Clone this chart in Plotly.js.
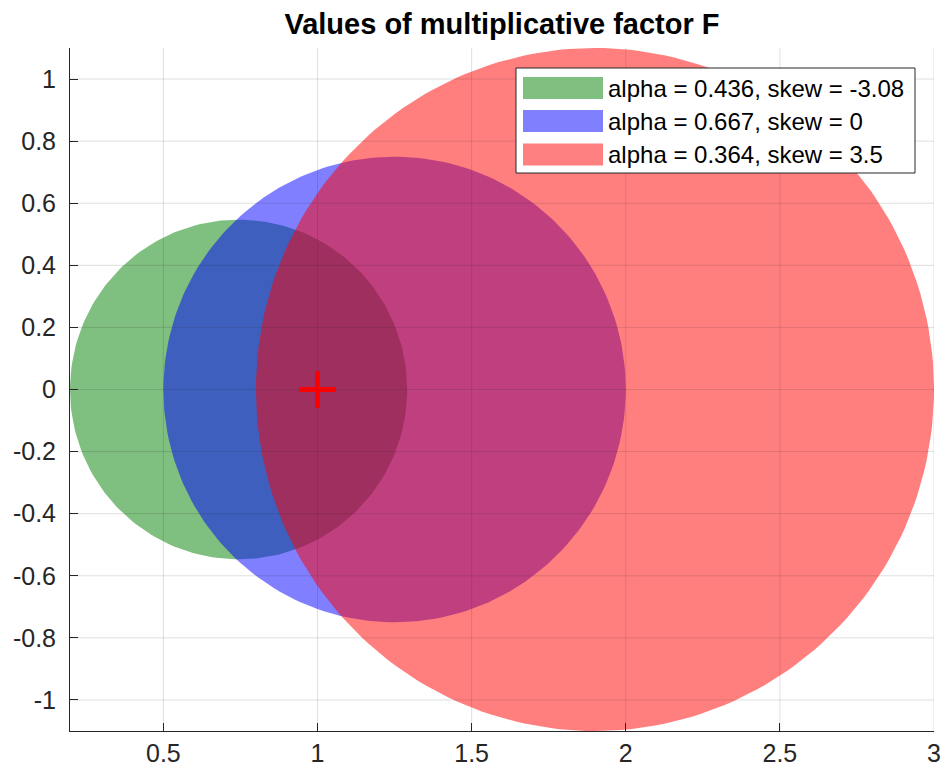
<!DOCTYPE html>
<html>
<head>
<meta charset="utf-8">
<script src="https://cdn.plot.ly/plotly-3.0.1.min.js"></script>
<style>html,body{margin:0;padding:0;background:#fff;}#chart{width:945px;height:774px;}</style>
</head>
<body>
<div id="chart"></div>
<script>
// ---- data ----
const seriesLabels = ["alpha = 0.436, skew = -3.08", "alpha = 0.667, skew = 0", "alpha = 0.364, skew = 3.5"];
const centerX = [0.744, 1.25, 1.9];
const centerY = [0, 0, 0];
const radius = [0.547, 0.75, 1.1];
const fillColors = ["rgba(0,128,0,0.5)", "rgba(0,0,255,0.5)", "rgba(255,0,0,0.5)"];
const legendColors = ["rgb(128,191,128)", "rgb(128,128,255)", "rgb(255,128,128)"];
const markerX = [1];
const markerY = [0];
const xTicks = [0.5, 1, 1.5, 2, 2.5, 3];
const xTickLabels = ["0.5", "1", "1.5", "2", "2.5", "3"];
const yTicks = [-1, -0.8, -0.6, -0.4, -0.2, 0, 0.2, 0.4, 0.6, 0.8, 1];
const yTickLabels = ["-1", "-0.8", "-0.6", "-0.4", "-0.2", "0", "0.2", "0.4", "0.6", "0.8", "1"];
const titleText = "Values of multiplicative factor F";

// ---- layout geometry ----
const W = 945, H = 774;
const M = {l: 70, r: 11, t: 48, b: 43};
const FONT = "Liberation Sans, Arial, Helvetica, sans-serif";
const AXC = "#262626";

const traces = [];
const N = 240;
for (let i = 0; i < centerX.length; i++) {
  const xs = [], ys = [];
  for (let k = 0; k <= N; k++) {
    const t = 2 * Math.PI * k / N;
    xs.push(centerX[i] + radius[i] * Math.cos(t));
    ys.push(centerY[i] + radius[i] * Math.sin(t));
  }
  traces.push({
    x: xs, y: ys, type: "scatter", mode: "lines", fill: "toself",
    fillcolor: fillColors[i], line: {width: 0, color: fillColors[i]},
    name: seriesLabels[i], showlegend: false, hoverinfo: "skip"
  });
}
traces.push({
  x: markerX, y: markerY, type: "scatter", mode: "markers",
  marker: {symbol: "cross-thin", size: 26, color: "red", line: {color: "red", width: 5}},
  showlegend: false
});

const xMin = Math.min(...centerX.map((c, i) => c - radius[i]));
const xMax = Math.max(...centerX.map((c, i) => c + radius[i]));
const yMax = Math.max(...centerY.map((c, i) => c + radius[i]));
const yMin = Math.min(...centerY.map((c, i) => c - radius[i]));

const shapes = [];
const annotations = [];
const gridColor = "rgba(38,38,38,0.15)";
xTicks.forEach(v => shapes.push({type: "line", xref: "x", yref: "paper", x0: v, x1: v, y0: 0, y1: 1, line: {color: gridColor, width: 1}, layer: "above"}));
yTicks.forEach(v => shapes.push({type: "line", xref: "paper", yref: "y", x0: 0, x1: 1, y0: v, y1: v, line: {color: gridColor, width: 1}, layer: "above"}));

// custom legend (pixel -> paper)
const pw = W - M.l - M.r, ph = H - M.t - M.b;
const px = p => (p - M.l) / pw;
const py = p => (H - M.b - p) / ph;
shapes.push({type: "rect", xref: "paper", yref: "paper", x0: px(516), x1: px(915), y0: py(173), y1: py(68),
  fillcolor: "white", line: {color: AXC, width: 1}, layer: "above"});
const rowTop = [77, 110, 143.5];
for (let i = 0; i < seriesLabels.length; i++) {
  shapes.push({type: "rect", xref: "paper", yref: "paper", x0: px(523), x1: px(603), y0: py(rowTop[i] + 22), y1: py(rowTop[i]),
    fillcolor: legendColors[i], line: {width: 0}, layer: "above"});
  annotations.push({xref: "paper", yref: "paper", x: px(606), y: py(rowTop[i] + 11), xanchor: "left", yanchor: "middle",
    text: seriesLabels[i], showarrow: false, font: {family: FONT, size: 24, color: "#000"}});
}

const layout = {
  width: W, height: H,
  margin: M,
  paper_bgcolor: "white", plot_bgcolor: "white",
  showlegend: false,
  title: {text: "<b>" + titleText + "</b>", font: {family: FONT, size: 29, color: "#000"},
    x: 0.5, xanchor: "center", xref: "paper", y: 1 - 24 / H, yanchor: "middle", yref: "container"},
  xaxis: {range: [xMin, xMax], tickvals: xTicks, ticktext: xTickLabels, showgrid: false, zeroline: false,
    showline: true, linecolor: AXC, linewidth: 1, ticks: "inside", ticklen: 8, tickcolor: AXC,
    tickfont: {family: FONT, size: 25, color: AXC}, layer: "above traces", mirror: false},
  yaxis: {range: [yMin, yMax], tickvals: yTicks, ticktext: yTickLabels, showgrid: false, zeroline: false,
    showline: true, linecolor: AXC, linewidth: 1, ticks: "inside", ticklen: 8, tickcolor: AXC,
    ticklabelstandoff: 8,
    tickfont: {family: FONT, size: 25, color: AXC}, layer: "above traces", mirror: false},
  shapes: shapes,
  annotations: annotations
};

Plotly.newPlot("chart", traces, layout, {displayModeBar: false, staticPlot: true});
</script>
</body>
</html>
